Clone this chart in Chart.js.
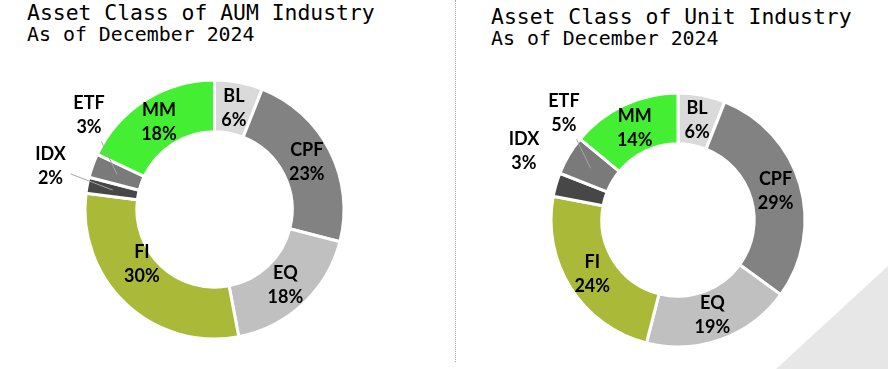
<!DOCTYPE html>
<html>
<head>
<meta charset="utf-8">
<script src="https://cdn.jsdelivr.net/npm/chart.js@4.4.1/dist/chart.umd.min.js"></script>
<style>
  html, body { margin: 0; padding: 0; background: #fff; }
  #page { position: relative; width: 888px; height: 369px; overflow: hidden; }
  .swoosh {
    position: absolute; left: 0; top: 0; width: 888px; height: 369px;
    background: linear-gradient(135deg, #f6f6f6 0%, #e6e6e6 100%);
    clip-path: polygon(888px 266px, 888px 369px, 776px 369px);
  }
  .divider { position: absolute; left: 455px; top: 0; height: 362px; border-left: 1px dotted #a8a8a8; }
  .title { position: absolute; font-family: "DejaVu Sans Mono", monospace; color: #000; white-space: nowrap; }
  .title .l1 { font-size: 21.4px; line-height: 22px; }
  .title .l2 { font-size: 19.9px; line-height: 22px; }
  canvas { position: absolute; top: 50px; }
</style>
</head>
<body>
<div id="page">
  <div class="swoosh"></div>
  <div class="divider"></div>
  <div class="title" style="left:27px; top:2px;"><div class="l1">Asset Class of AUM Industry</div><div class="l2">As of December 2024</div></div>
  <div class="title" style="left:491px; top:6px;"><div class="l1">Asset Class of Unit Industry</div><div class="l2">As of December 2024</div></div>
  <canvas id="aumChart" width="430" height="319" style="left:0px;"></canvas>
  <canvas id="unitChart" width="430" height="319" style="left:458px;"></canvas>
</div>
<script>
const categories = ["BL", "CPF", "EQ", "FI", "IDX", "ETF", "MM"];
const aumShare = [6, 23, 18, 30, 2, 3, 18];
const unitShare = [6, 29, 19, 24, 3, 5, 14];
const sliceColors = ["#dadada", "#828282", "#c0c0c0", "#aaba38", "#474747", "#7a7a7a", "#44ee33"];

// labels that Excel moved off the centroid (r = share of outer radius, turn in degrees)
const aumPlace = {
  FI: { r: 0.70, turn: 10 },
  IDX: { r: 1.31, turn: 4, leader: true },
  ETF: { r: 1.21, turn: 17, leader: true }
};
const unitPlace = {
  IDX: { r: 1.33, turn: 8 },
  ETF: { r: 1.23, turn: 12.5, leader: true }
};

const sliceLabels = {
  id: "sliceLabels",
  afterDatasetsDraw(chart, args, opts) {
    const ctx = chart.ctx;
    const meta = chart.getDatasetMeta(0);
    const values = chart.data.datasets[0].data;
    ctx.save();
    ctx.font = "bold 18px Lato";
    ctx.textAlign = "center";
    ctx.textBaseline = "middle";
    meta.data.forEach((arc, i) => {
      const p = arc.getProps(["x", "y", "startAngle", "endAngle", "innerRadius", "outerRadius"], true);
      const mid = (p.startAngle + p.endAngle) / 2;
      const midR = (p.innerRadius + p.outerRadius) / 2;
      const cx = p.x + Math.cos(mid) * midR;
      const cy = p.y + Math.sin(mid) * midR;
      let lx = cx, ly = cy;
      const place = opts.place[chart.data.labels[i]];
      if (place) {
        const a = mid + place.turn * Math.PI / 180;
        lx = p.x + Math.cos(a) * p.outerRadius * place.r;
        ly = p.y + Math.sin(a) * p.outerRadius * place.r;
        if (place.leader) {
          const dx = cx - lx, dy = cy - ly;
          const t = Math.min(20 / Math.abs(dx || 1), 26 / Math.abs(dy || 1));
          ctx.strokeStyle = "#a6a6a6";
          ctx.lineWidth = 1;
          ctx.beginPath();
          ctx.moveTo(lx + dx * t, ly + dy * t);
          ctx.lineTo(cx, cy);
          ctx.stroke();
        }
      }
      ctx.fillStyle = "#000";
      ctx.fillText(chart.data.labels[i], lx, ly - 12);
      ctx.fillText(values[i] + "%", lx, ly + 12);
    });
    ctx.restore();
  }
};

function createChart(canvasId, values, place, padding) {
  const ctx = document.getElementById(canvasId).getContext("2d");
  return new Chart(ctx, {
    type: "doughnut",
    data: {
      labels: categories,
      datasets: [{
        data: values,
        backgroundColor: sliceColors,
        borderColor: "#ffffff",
        borderWidth: 3,
        hoverOffset: 0,
        offset: 0
      }]
    },
    options: {
      responsive: false,
      animation: false,
      events: [],
      cutout: "60%",
      layout: { padding: padding },
      plugins: {
        legend: { display: false },
        tooltip: { enabled: false },
        sliceLabels: { place: place }
      }
    },
    plugins: [sliceLabels]
  });
}

createChart("aumChart", aumShare, aumPlace, { left: 83.5, top: 28.5, right: 84.5, bottom: 28.5 });
createChart("unitChart", unitShare, unitPlace, { left: 91.5, top: 41.5, right: 81.5, bottom: 20.5 });
</script>
</body>
</html>
